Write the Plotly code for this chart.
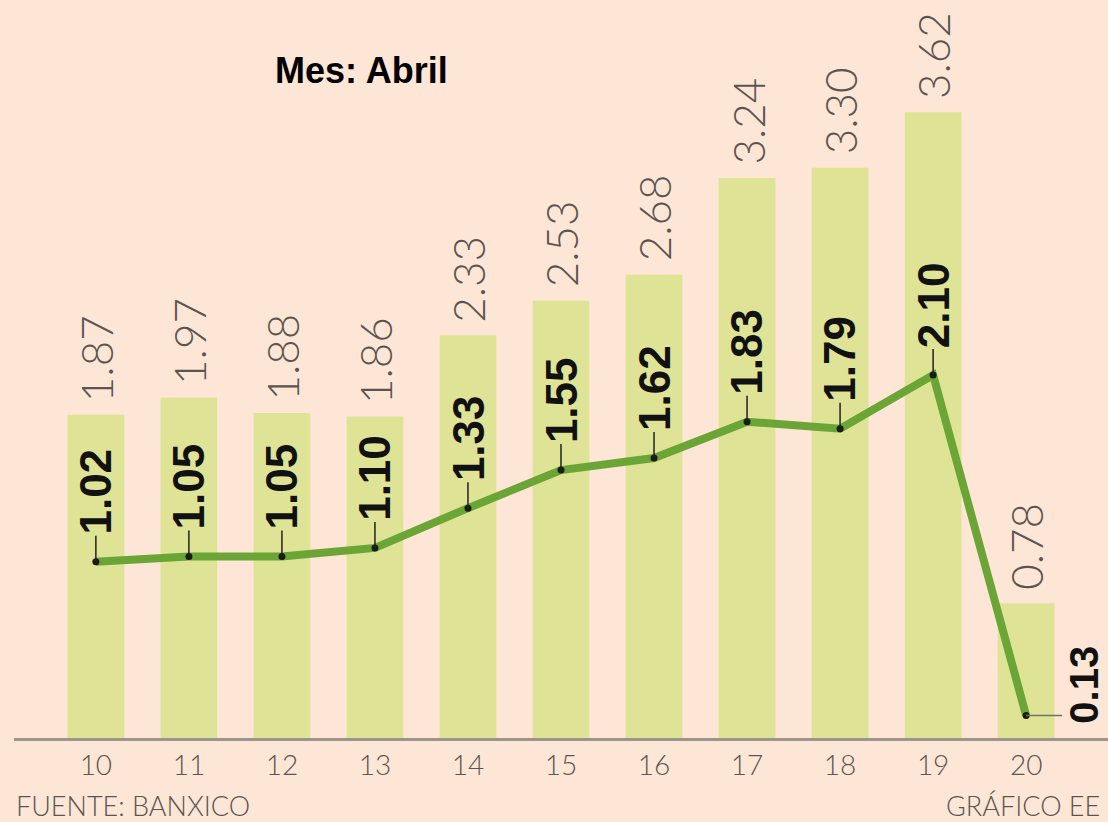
import plotly.graph_objects as go

years = ["10", "11", "12", "13", "14", "15", "16", "17", "18", "19", "20"]
bar_values = [1.87, 1.97, 1.88, 1.86, 2.33, 2.53, 2.68, 3.24, 3.30, 3.62, 0.78]
line_values = [1.02, 1.05, 1.05, 1.10, 1.33, 1.55, 1.62, 1.83, 1.79, 2.10, 0.13]
title_text = "Mes: Abril"
source_text = "FUENTE: BANXICO"
credit_text = "GRÁFICO EE"

BG = "#fde6d6"
BAR = "#dee395"
LINE = "#6aa535"
GREY = "#5a5550"

idx = list(range(len(years)))

fig = go.Figure()
fig.add_trace(go.Bar(
    x=idx, y=bar_values, width=0.61, marker=dict(color=BAR, line=dict(width=0)),
    hoverinfo="skip", showlegend=False,
))
fig.add_trace(go.Scatter(
    x=idx, y=line_values, mode="lines+markers",
    line=dict(color=LINE, width=8),
    marker=dict(color="#1a1a1a", size=7),
    showlegend=False, hoverinfo="skip",
))

annotations = []
shapes = []
for i, v in zip(idx, bar_values):
    annotations.append(dict(
        x=i, y=v, xref="x", yref="y", text=f"{v:.2f}", showarrow=False,
        textangle=-90, xanchor="center", yanchor="bottom", yshift=11,
        font=dict(family="Lato", size=44, color=GREY, weight=300),
    ))

last = len(idx) - 1
for i, v in zip(idx, line_values):
    if i == last:
        shapes.append(dict(
            type="line", xref="x", yref="y", xsizemode="pixel", xanchor=i,
            x0=0, x1=36, y0=v, y1=v, line=dict(color="#6f7560", width=1.5),
        ))
        annotations.append(dict(
            x=i, y=v, xref="x", yref="y", text=f"<b>{v:.2f}</b>", showarrow=False,
            textangle=-90, xanchor="left", yanchor="bottom", xshift=33, yshift=-10,
            font=dict(family="Liberation Sans", size=40, color="#111111"),
        ))
    else:
        shapes.append(dict(
            type="line", xref="x", yref="y", ysizemode="pixel", yanchor=v,
            x0=i, x1=i, y0=0, y1=26, line=dict(color="#222222", width=1.5),
        ))
        annotations.append(dict(
            x=i, y=v, xref="x", yref="y", text=f"<b>{v:.2f}</b>", showarrow=False,
            textangle=-90, xanchor="center", yanchor="bottom", yshift=25,
            font=dict(family="Liberation Sans", size=44, color="#111111"),
        ))

annotations.append(dict(
    x=0.318, y=0.905, xref="paper", yref="paper", text=f"<b>{title_text}</b>",
    showarrow=False, xanchor="center", yanchor="middle",
    font=dict(family="Liberation Sans", size=36, color="#000000"),
))
annotations.append(dict(
    x=0, y=0, xref="paper", yref="paper", text=source_text, showarrow=False,
    xanchor="left", yanchor="middle", yshift=-67,
    font=dict(family="Lato", size=27, color=GREY, weight=300),
))
annotations.append(dict(
    x=0.850, y=0, xref="paper", yref="paper", text=credit_text, showarrow=False,
    xanchor="left", yanchor="middle", yshift=-67,
    font=dict(family="Lato", size=27, color=GREY, weight=300),
))

fig.update_layout(
    width=1108, height=822,
    margin=dict(l=14, r=0, t=0, b=84),
    paper_bgcolor=BG, plot_bgcolor=BG,
    showlegend=False,
    annotations=annotations,
    shapes=shapes,
    xaxis=dict(
        range=[-0.88, 10.88], tickmode="array", tickvals=idx, ticktext=years,
        showgrid=False, zeroline=False, showline=True, linecolor="#9c958c", linewidth=3,
        ticks="", tickfont=dict(family="Lato", size=28, color=GREY, weight=300),
        fixedrange=True,
    ),
    yaxis=dict(range=[0, 4.27], visible=False, showgrid=False, zeroline=False, fixedrange=True),
)

fig.write_html(
    "out.html",
    config={"displayModeBar": False},
    post_script="document.body.style.margin='0';document.body.style.padding='0';"
                "document.body.style.background='" + BG + "';",
)
